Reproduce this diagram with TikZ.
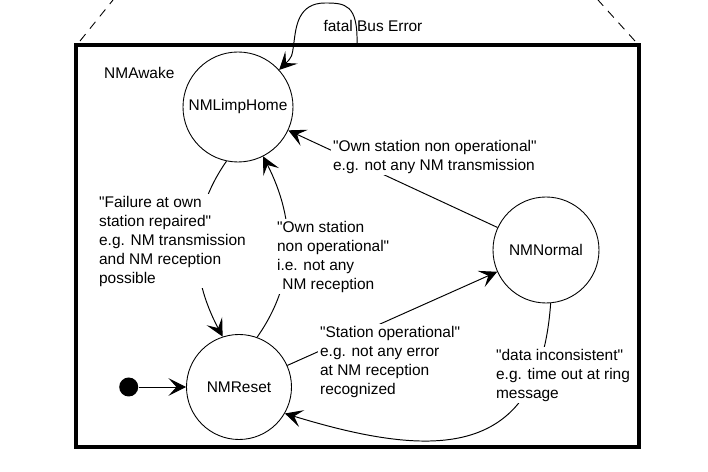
\documentclass[tikz,border=0pt]{standalone}
\usepackage{fontspec}
\setmainfont{Liberation Sans}[Ligatures=TeXOff]
\usetikzlibrary{arrows.meta, positioning}

\begin{document}
\begin{tikzpicture}[
    font=\fontsize{8.8}{10.8}\selectfont,
    state/.style={circle, draw, line width=0.5pt, inner sep=0pt},
    trans/.style={line width=0.55pt, -{Stealth[length=10pt, width=10pt, inset=4.5pt]}},
    guard/.style={align=left, fill=white, inner sep=1pt, anchor=north west}
]
    \useasboundingbox (0,0) rectangle (14.16,9.44);

    % Superstate frame
    \draw[line width=2.2pt] (1.52,0.50) rectangle (12.78,8.54);
    \draw[dash pattern=on 5pt off 4pt, line width=0.5pt] (1.60,8.62) -- (2.26,9.44);
    \draw[dash pattern=on 5pt off 4pt, line width=0.5pt] (12.70,8.62) -- (11.96,9.44);
    \node[anchor=west] (awake) at (1.96,7.98) {NMAwake};

    % States
    \node[state, minimum size=2.2cm] (limp) at (4.76,7.30) {NMLimpHome};
    \node[state, minimum size=2.12cm] (normal) at (10.92,4.44) {NMNormal};
    \node[state, minimum size=2.1cm] (reset) at (4.78,1.70) {NMReset};
    \node[circle, fill, minimum size=0.38cm, inner sep=0pt, left=0.95cm of reset] (init) {};

    % Transitions
    \coordinate (buserr) at (7.14,8.56);
    \draw[trans] (buserr) .. controls (7.16,9.36) and (6.90,9.38) .. (6.50,9.38)
        .. controls (5.96,9.38) and (5.92,8.90) .. (5.88,8.60)
        .. controls (5.84,8.30) .. (limp.42);
    \draw[trans] (init) -- (reset);
    \draw[trans] (normal) -- (limp);
    \draw[trans] (reset) -- (normal);
    \draw[trans] (limp.258) to[out=235, in=118] (reset.108);
    \draw[trans] (reset.70) to[out=55, in=-63] (limp.-63);
    \draw[trans] (normal.-85) to[out=-94, in=-17, looseness=1.4] (reset.-30);

    % Labels
    \node at (7.46,8.92) {fatal Bus Error};
    \node[guard] at (6.62,6.68) {"Own station non operational"\\e.g. not any NM transmission};
    \node[guard] at (1.94,5.56) {"Failure at own\\station repaired"\\e.g. NM transmission\\and NM reception\\possible};
    \node[guard] at (5.50,5.06) {"Own station\\non operational"\\i.e. not any\\\hspace*{3pt}NM reception};
    \node[guard] at (6.36,2.96) {"Station operational"\\e.g. not any error\\at NM reception\\recognized};
    \node[guard] at (9.88,2.50) {"data inconsistent"\\e.g. time out at ring\\message};
\end{tikzpicture}
\end{document}
